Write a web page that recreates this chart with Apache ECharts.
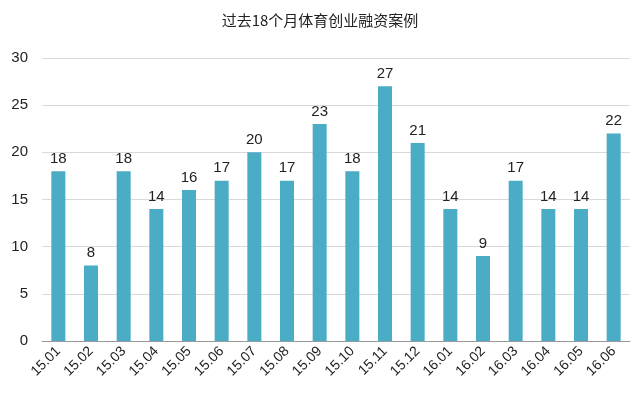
<!DOCTYPE html>
<html>
<head>
<meta charset="utf-8">
<script src="https://cdn.jsdelivr.net/npm/echarts@6/dist/echarts.min.js"></script>
<style>html,body{margin:0;padding:0;background:#fff}#main{width:640px;height:406px}</style>
</head>
<body>
<div id="main"></div>
<script>
var months = ['15.01','15.02','15.03','15.04','15.05','15.06','15.07','15.08','15.09','15.10','15.11','15.12','16.01','16.02','16.03','16.04','16.05','16.06'];
var cases = [18, 8, 18, 14, 16, 17, 20, 17, 23, 18, 27, 21, 14, 9, 17, 14, 14, 22];

var chart = echarts.init(document.getElementById('main'));
chart.setOption({
    animation: false,
    title: {
        text: '过去18个月体育创业融资案例',
        left: 'center',
        top: 8,
        textStyle: { fontSize: 15, fontWeight: 'normal', color: '#222', fontFamily: 'Noto Sans CJK SC' }
    },
    grid: { left: 42, right: 10, top: 58, bottom: 65 },
    xAxis: {
        type: 'category',
        data: months,
        axisTick: { show: false },
        axisLine: { lineStyle: { color: '#999' } },
        axisLabel: { rotate: 45, fontSize: 14, color: '#222', margin: 8, interval: 0 }
    },
    yAxis: {
        type: 'value',
        min: 0, max: 30, interval: 5,
        axisLabel: { fontSize: 15, color: '#222', margin: 14 },
        splitLine: { lineStyle: { color: '#d9d9d9' } }
    },
    series: [{
        type: 'bar',
        data: cases,
        barWidth: 14,
        itemStyle: { color: '#4bacc6' },
        label: { show: true, position: 'top', fontSize: 15, color: '#222' }
    }]
});
</script>
</body>
</html>
